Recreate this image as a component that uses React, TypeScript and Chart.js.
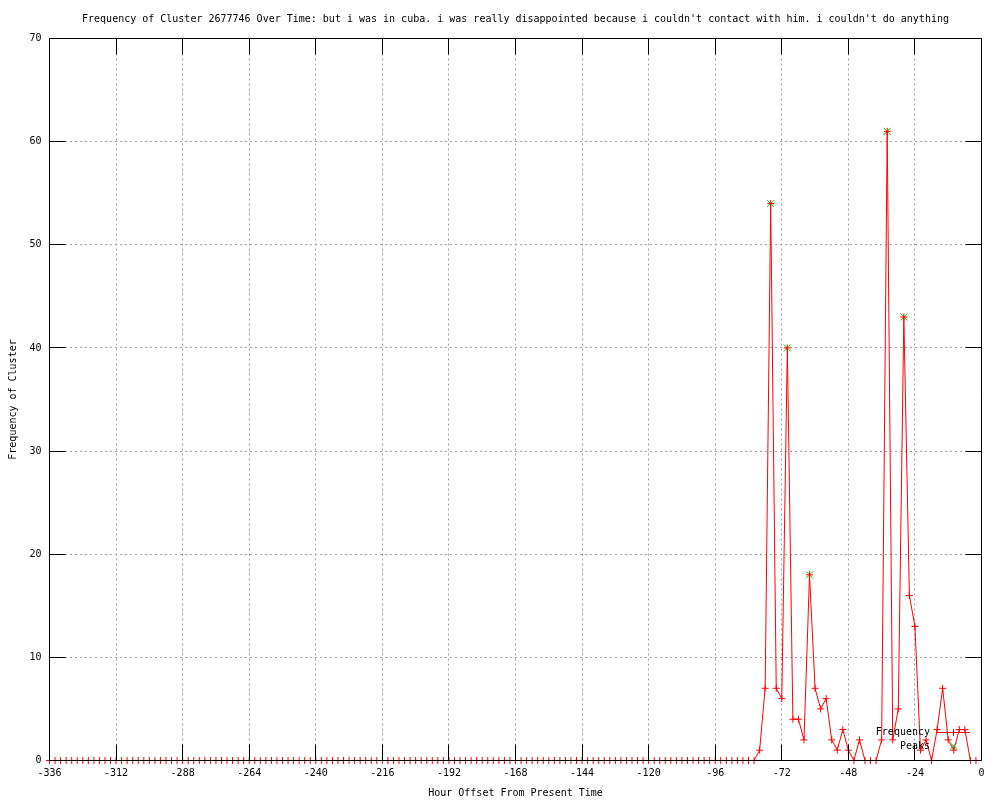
import React, { useEffect, useRef } from "react";
import { Chart, registerables } from "chart.js";

Chart.register(...registerables);

const FONT = "'DejaVu Sans Mono', 'Liberation Mono', monospace";

const CHART_TITLE =
  "Frequency of Cluster 2677746 Over Time: but i was in cuba. i was really disappointed because i couldn't contact with him. i couldn't do anything";
const X_TITLE = "Hour Offset From Present Time";
const Y_TITLE = "Frequency of Cluster";

// x categories: hours from -336, every 2 hours
const HOUR_START = -336;
const HOUR_STEP = 2;

// Frequency per 2-hour bucket, from -336 to -2
const FREQUENCY: number[] = [
  0, 0, 0, 0, 0, 0, 0, 0, 0, 0, 0, 0, 0, 0, 0, 0,
  0, 0, 0, 0, 0, 0, 0, 0, 0, 0, 0, 0, 0, 0, 0, 0,
  0, 0, 0, 0, 0, 0, 0, 0, 0, 0, 0, 0, 0, 0, 0, 0,
  0, 0, 0, 0, 0, 0, 0, 0, 0, 0, 0, 0, 0, 0, 0, 0,
  0, 0, 0, 0, 0, 0, 0, 0, 0, 0, 0, 0, 0, 0, 0, 0,
  0, 0, 0, 0, 0, 0, 0, 0, 0, 0, 0, 0, 0, 0, 0, 0,
  0, 0, 0, 0, 0, 0, 0, 0, 0, 0, 0, 0, 0, 0, 0, 0,
  0, 0, 0, 0, 0, 0, 0, 0, 0, 0, 0, 0, 0, 0, 0, 0,
  // -80 .. -2
  1, 7, 54, 7, 6, 40, 4, 4, 2, 18,
  7, 5, 6, 2, 1, 3, 1, 0, 2, 0,
  0, 0, 2, 61, 2, 5, 43, 16, 13, 1,
  2, 0, 3, 7, 2, 1, 3, 3, 0, 0,
];

const PEAK_HOURS: number[] = [-76, -70, -62, -34, -28];
const PEAK_VALUES: number[] = [54, 40, 18, 61, 43];

const X_TICK_MIN = -336;
const X_TICK_MAX = 0;
const X_TICK_STEP = 24;
const Y_TICK_MIN = 0;
const Y_TICK_MAX = 70;
const Y_TICK_STEP = 10;

const RED = "#ff0000";
const GREEN = "#00c000";
const GRID = "#a0a0a0";

const crisp = (v: number) => Math.floor(v) + 0.5;

const gnuplotFrame = {
  id: "gnuplotFrame",
  afterDatasetsDraw(chart: any) {
    const { ctx, chartArea: a, scales } = chart;
    const xs = scales.x;
    const ys = scales.y;
    const L = crisp(a.left), R = crisp(a.right), T = crisp(a.top), B = crisp(a.bottom);
    const TL = 16;
    ctx.save();
    ctx.strokeStyle = "#000";
    ctx.lineWidth = 1;
    ctx.beginPath();
    ctx.rect(L, T, R - L, B - T);
    for (const t of xs.ticks) {
      const px = crisp(xs.getPixelForValue(t.value));
      ctx.moveTo(px, B);
      ctx.lineTo(px, B - TL);
      ctx.moveTo(px, T);
      ctx.lineTo(px, T + TL);
    }
    for (const t of ys.ticks) {
      const py = crisp(ys.getPixelForValue(t.value));
      ctx.moveTo(L, py);
      ctx.lineTo(L + TL, py);
      ctx.moveTo(R, py);
      ctx.lineTo(R - TL, py);
    }
    ctx.stroke();
    ctx.restore();
  },
  afterDraw(chart: any) {
    const { ctx } = chart;
    const ds = chart.data.datasets;
    const textRight = 930;
    const sx1 = 937, sx2 = 970, sc = 953.5;
    const rows = [732, 746];
    ctx.save();
    ctx.font = `10px ${FONT}`;
    ctx.fillStyle = "#000";
    ctx.textAlign = "right";
    ctx.textBaseline = "middle";
    ctx.fillText(ds[0].label, textRight, rows[0]);
    ctx.fillText(ds[1].label, textRight, rows[1]);
    ctx.lineWidth = 1;
    ctx.strokeStyle = RED;
    ctx.beginPath();
    ctx.moveTo(sx1, rows[0] + 0.5);
    ctx.lineTo(sx2, rows[0] + 0.5);
    ctx.moveTo(sc - 3.5, rows[0] + 0.5);
    ctx.lineTo(sc + 3.5, rows[0] + 0.5);
    ctx.moveTo(sc, rows[0] - 3);
    ctx.lineTo(sc, rows[0] + 4);
    ctx.stroke();
    ctx.strokeStyle = GREEN;
    ctx.beginPath();
    ctx.moveTo(sc - 3.5, rows[1] - 3.5);
    ctx.lineTo(sc + 3.5, rows[1] + 3.5);
    ctx.moveTo(sc - 3.5, rows[1] + 3.5);
    ctx.lineTo(sc + 3.5, rows[1] - 3.5);
    ctx.stroke();
    ctx.restore();
  },
};

export default function App() {
  const canvasRef = useRef<HTMLCanvasElement | null>(null);

  useEffect(() => {
    const canvas = canvasRef.current;
    if (!canvas) return;

    const freqPoints = FREQUENCY.map((v, i) => ({ x: HOUR_START + i * HOUR_STEP, y: v }));
    const peakPoints = PEAK_HOURS.map((h, i) => ({ x: h, y: PEAK_VALUES[i] }));

    const chart = new Chart(canvas, {
      type: "line",
      data: {
        datasets: [
          {
            label: "Frequency",
            data: freqPoints,
            borderColor: RED,
            backgroundColor: RED,
            borderWidth: 1,
            pointStyle: "cross",
            pointRadius: 3.5,
            pointBorderColor: RED,
            pointBorderWidth: 1,
            tension: 0,
            fill: false,
            clip: false,
          },
          {
            label: "Peaks",
            data: peakPoints,
            showLine: false,
            borderColor: GREEN,
            backgroundColor: GREEN,
            pointStyle: "crossRot",
            pointRadius: 5,
            pointBorderColor: GREEN,
            pointBorderWidth: 1,
            clip: false,
          },
        ],
      },
      options: {
        responsive: false,
        animation: false,
        events: [],
        layout: { padding: { left: 0, right: 18.5, top: 0, bottom: 0 } },
        plugins: {
          legend: { display: false },
          tooltip: { enabled: false },
          title: {
            display: true,
            text: CHART_TITLE,
            fullSize: false,
            color: "#000",
            font: { family: FONT, size: 10, weight: "normal" },
            padding: { top: 13, bottom: 13.5 },
          },
        },
        scales: {
          x: {
            type: "linear",
            position: "bottom",
            min: X_TICK_MIN,
            max: X_TICK_MAX,
            afterFit: (s: any) => {
              s.height = 39.5;
            },
            ticks: {
              stepSize: X_TICK_STEP,
              autoSkip: false,
              maxRotation: 0,
              padding: 7,
              color: "#000",
              font: { family: FONT, size: 10 },
              callback: (v: any) => String(v),
            },
            grid: { display: true, color: GRID, lineWidth: 1, drawTicks: false },
            border: { display: false, dash: [2, 3] },
            title: {
              display: true,
              text: X_TITLE,
              color: "#000",
              font: { family: FONT, size: 10 },
              padding: { top: 0, bottom: 1 },
            },
          },
          y: {
            type: "linear",
            position: "left",
            min: Y_TICK_MIN,
            max: Y_TICK_MAX,
            afterFit: (s: any) => {
              s.width = 49.5;
            },
            ticks: {
              stepSize: Y_TICK_STEP,
              padding: 8,
              color: "#000",
              font: { family: FONT, size: 10 },
              callback: (v: any) => String(v),
            },
            grid: { display: true, color: GRID, lineWidth: 1, drawTicks: false },
            border: { display: false, dash: [2, 3] },
            title: {
              display: true,
              text: Y_TITLE,
              color: "#000",
              font: { family: FONT, size: 10 },
              padding: { top: 7, bottom: 0 },
            },
          },
        },
      },
      plugins: [gnuplotFrame],
    });

    return () => chart.destroy();
  }, []);

  return (
    <div style={{ position: "absolute", left: 0, top: 0, width: 1000, height: 800, background: "#fff" }}>
      <canvas ref={canvasRef} width={1000} height={800} style={{ display: "block" }} />
    </div>
  );
}
